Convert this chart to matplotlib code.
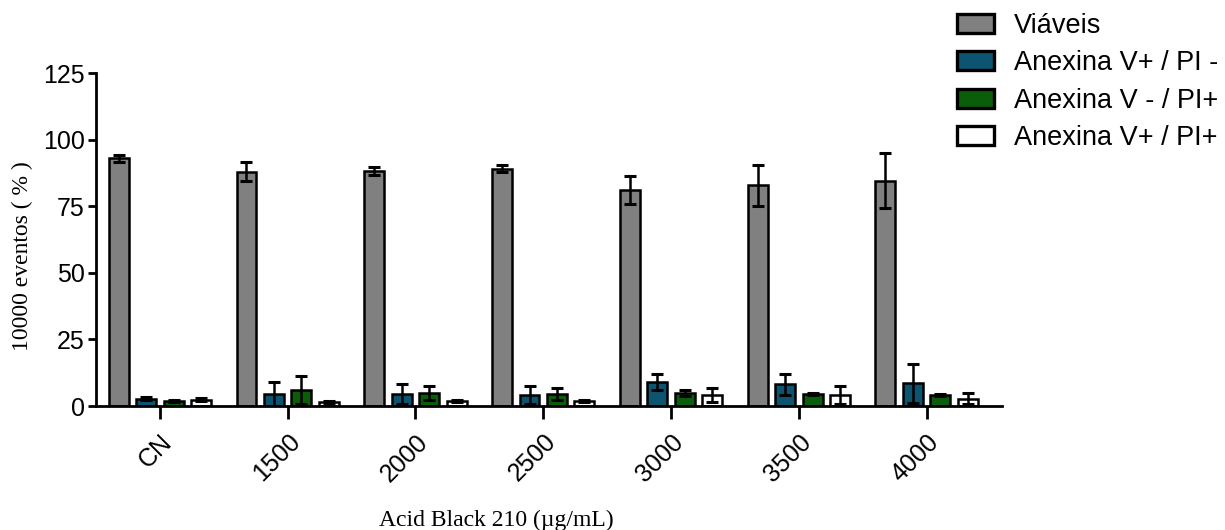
import numpy as np
import matplotlib
matplotlib.use("Agg")
import matplotlib.pyplot as plt

# data
groups = ["CN", "1500", "2000", "2500", "3000", "3500", "4000"]
series = ["Viáveis", "Anexina V+ / PI -", "Anexina V - / PI+", "Anexina V+ / PI+"]
viaveis = [93.0, 88.0, 88.2, 89.0, 81.2, 82.8, 84.5]
viaveis_err = [1.4, 3.5, 1.5, 1.3, 5.2, 7.8, 10.3]
anex_pi_neg = [2.8, 4.4, 4.5, 4.1, 9.1, 8.1, 8.6]
anex_pi_neg_err = [0.5, 4.5, 3.8, 3.3, 3.0, 3.9, 7.3]
anexneg_pi = [1.8, 6.0, 5.0, 4.6, 4.8, 4.4, 4.0]
anexneg_pi_err = [0.4, 5.1, 2.6, 2.3, 1.2, 0.4, 0.4]
anex_pi = [2.4, 1.5, 1.8, 1.8, 4.1, 4.1, 2.7]
anex_pi_err = [0.5, 0.4, 0.4, 0.4, 2.5, 3.5, 2.0]

values = [viaveis, anex_pi_neg, anexneg_pi, anex_pi]
errors = [viaveis_err, anex_pi_neg_err, anexneg_pi_err, anex_pi_err]
colors = ["#808080", "#0C5470", "#0A5E0A", "#FFFFFF"]

SANS = ["Liberation Sans", "DejaVu Sans"]
SERIF = ["Liberation Serif", "DejaVu Serif"]

plt.rcParams.update({"font.family": SANS, "axes.linewidth": 2.0})

fig = plt.figure(figsize=(12.25, 5.3), dpi=100, facecolor="white")
ax = fig.add_axes([96 / 1225, 124 / 530, (1002 - 96) / 1225, (406 - 73) / 530])

x = np.arange(len(groups))
pitch = 0.215
width = 0.156
for i, (vals, errs, col, lab) in enumerate(zip(values, errors, colors, series)):
    pos = x + (i - 1.5) * pitch
    ax.bar(pos, vals, width=width, color=col, edgecolor="black",
           linewidth=1.8, label=lab, zorder=2)
    ax.errorbar(pos, vals, yerr=errs, fmt="none", ecolor="black",
                elinewidth=1.8, capsize=4.5, capthick=2.2, zorder=3)

ax.set_xlim(-0.5, 6.59)
ax.set_ylim(0, 125)
ax.set_yticks([0, 25, 50, 75, 100, 125])
ax.set_xticks(x)
ax.set_xticklabels(groups, rotation=45, ha="right", rotation_mode="anchor")
ax.tick_params(axis="y", direction="out", length=6, width=2, labelsize=18, pad=2)
ax.tick_params(axis="x", direction="out", length=9, width=2, labelsize=18, pad=8)
ax.spines["top"].set_visible(False)
ax.spines["right"].set_visible(False)

fig.text(22 / 1225, 1 - 256 / 530, "10000 eventos ( % )", rotation=90,
         ha="center", va="center", fontsize=17, family=SERIF)
fig.text(496 / 1225, 1 - 520 / 530, "Acid Black 210 (µg/mL)",
         ha="center", va="center", fontsize=17, family=SERIF)

leg = fig.legend(loc="upper left", bbox_to_anchor=(957 / 1225, 1 - 13 / 530),
                 frameon=False, fontsize=19.5, borderpad=0, borderaxespad=0,
                 handlelength=1.35, handleheight=0.7, handletextpad=0.75,
                 labelspacing=0.42)
for h in leg.legend_handles:
    h.set_linewidth(2.4)

fig.savefig("out.png", dpi=100, facecolor="white")
